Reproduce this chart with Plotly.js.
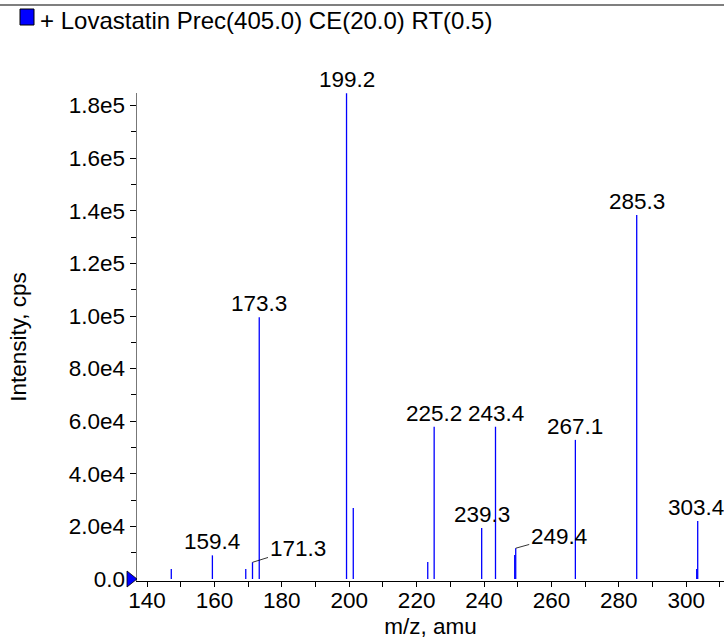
<!DOCTYPE html>
<html>
<head>
<meta charset="utf-8">
<script src="https://cdn.plot.ly/plotly-3.0.1.min.js"></script>
<style>html,body{margin:0;padding:0;background:#fff;}#chart{width:724px;height:639px;}</style>
</head>
<body>
<div id="chart"></div>
<script>
// Peak m/z values (amu)
var mz = [147.2, 159.4, 169.3, 171.3, 173.3, 199.2, 201.2, 223.3, 225.2, 239.3, 243.4, 249.1, 249.4, 267.1, 285.3, 303.1, 303.4];
// Peak intensities (cps)
var intensity = [3800, 9000, 3800, 6350, 99500, 184700, 27000, 6460, 57900, 19400, 57900, 9100, 11700, 52900, 138400, 3800, 22100];
// Labelled peaks
var labelMz = [159.4, 171.3, 173.3, 199.2, 225.2, 239.3, 243.4, 249.4, 267.1, 285.3, 303.4];
var labelText = ["159.4", "171.3", "173.3", "199.2", "225.2", "239.3", "243.4", "249.4", "267.1", "285.3", "303.4"];
// Axis ticks
var yTickVals = [0, 20000, 40000, 60000, 80000, 100000, 120000, 140000, 160000, 180000];
var yTickText = ["0.0", "2.0e4", "4.0e4", "6.0e4", "8.0e4", "1.0e5", "1.2e5", "1.4e5", "1.6e5", "1.8e5"];
var titleText = "+ Lovastatin Prec(405.0) CE(20.0) RT(0.5)";
var xTitle = "m/z, amu";
var yTitle = "Intensity, cps";

var xRange = [137.03, 311.2];
var yRange = [-760, 184800];
var FONT = "Liberation Sans, Arial, Helvetica, sans-serif";
var FS = 22.5;

// Build stick spectrum
var sx = [], sy = [];
for (var i = 0; i < mz.length; i++) {
  sx.push(mz[i], mz[i], null);
  sy.push(0, intensity[i], null);
}
var sticks = {
  x: sx, y: sy, type: 'scatter', mode: 'lines',
  line: {color: '#0000ff', width: 1.3},
  hoverinfo: 'skip', showlegend: false
};

var annotations = [];
for (var j = 0; j < labelMz.length; j++) {
  var k = mz.indexOf(labelMz[j]);
  var a = {
    x: labelMz[j], y: intensity[k], xref: 'x', yref: 'y',
    text: labelText[j], font: {family: FONT, size: FS, color: '#000'}
  };
  if (labelText[j] === "171.3") {
    a.showarrow = true; a.arrowhead = 0; a.arrowwidth = 0.8; a.arrowcolor = '#000';
    a.ax = 45; a.ay = -14; a.standoff = 0;
  } else if (labelText[j] === "249.4") {
    a.showarrow = true; a.arrowhead = 0; a.arrowwidth = 0.8; a.arrowcolor = '#000';
    a.ax = 43; a.ay = -12; a.standoff = 0;
  } else {
    a.showarrow = false; a.yanchor = 'bottom'; a.yshift = -1;
    if (labelText[j] === "303.4") { a.xshift = -2; }
  }
  annotations.push(a);
}

var zeroFrac = (0 - yRange[0]) / (yRange[1] - yRange[0]);

var layout = {
  width: 724, height: 639,
  margin: {l: 137, r: 0, t: 93, b: 58, pad: 0},
  paper_bgcolor: '#fff', plot_bgcolor: '#fff',
  font: {family: FONT, size: FS, color: '#000'},
  title: {
    text: titleText, font: {family: FONT, size: 24, color: '#000'},
    xref: 'container', yref: 'container', x: 40 / 724, xanchor: 'left',
    y: 1 - 21 / 639, yanchor: 'middle'
  },
  xaxis: {
    range: xRange, showgrid: false, zeroline: false,
    showline: true, linecolor: '#000', linewidth: 1.2,
    ticks: 'outside', ticklen: 5, tickwidth: 1, tickcolor: '#000',
    tickmode: 'linear', tick0: 0, dtick: 20, ticklabelstandoff: -6,
    minor: {tickmode: 'linear', tick0: 0, dtick: 10, ticks: 'outside', ticklen: 5, tickcolor: '#000'},
    tickfont: {family: FONT, size: FS, color: '#000'},
    title: {text: xTitle, font: {family: FONT, size: FS, color: '#000'}, standoff: 8}
  },
  yaxis: {
    range: yRange, showgrid: false, zeroline: false,
    showline: true, linecolor: '#777', linewidth: 1.5,
    ticks: 'outside', ticklen: 6, tickwidth: 1, tickcolor: '#000',
    tickmode: 'array', tickvals: yTickVals, ticktext: yTickText,
    minor: {tickmode: 'linear', tick0: 0, dtick: 10000, ticks: 'outside', ticklen: 5, tickcolor: '#000'},
    tickfont: {family: FONT, size: FS, color: '#000'},
    title: {text: yTitle, font: {family: FONT, size: FS, color: '#000'}, standoff: 36}
  },
  shapes: [
    {type: 'line', xref: 'paper', yref: 'paper', x0: -137 / 587, x1: 1, y0: 1 + 88 / 488, y1: 1 + 88 / 488,
     line: {color: '#555', width: 1.5}},
    {type: 'rect', xref: 'paper', yref: 'paper',
     x0: -117 / 587, x1: -103 / 587, y0: 1 + 68 / 488, y1: 1 + 84 / 488,
     fillcolor: '#0000ff', line: {color: '#000', width: 1}},
    // zero-level marker on the intensity axis
    {type: 'path', xref: 'paper', yref: 'paper', xsizemode: 'pixel', ysizemode: 'pixel',
     xanchor: 0, yanchor: zeroFrac, path: 'M-10,8 L0,0 L-10,-8 Z',
     fillcolor: '#0000ff', line: {color: '#000', width: 0.8}}
  ],
  annotations: annotations,
  showlegend: false
};

Plotly.newPlot('chart', [sticks], layout, {displayModeBar: false, staticPlot: true});
</script>
</body>
</html>
